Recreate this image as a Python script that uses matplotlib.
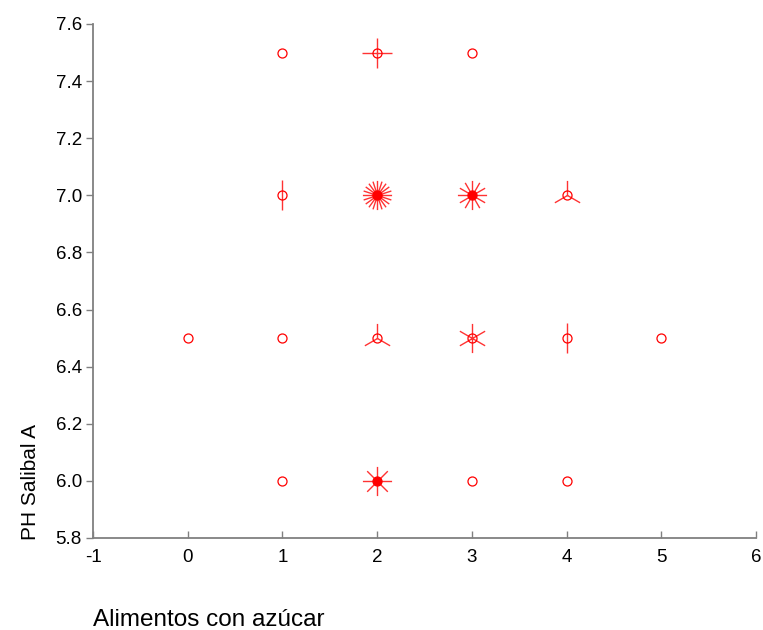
import matplotlib

matplotlib.use("Agg")
import matplotlib.pyplot as plt
import numpy as np
from matplotlib.path import Path

plt.rcParams["font.family"] = ["Liberation Sans", "DejaVu Sans"]

# sunflower plot data: position and number of coincident observations
x_vals = [1, 2, 3, 1, 2, 3, 4, 0, 1, 2, 3, 4, 5, 1, 2, 3, 4]
y_vals = [7.5, 7.5, 7.5, 7.0, 7.0, 7.0, 7.0, 6.5, 6.5, 6.5, 6.5, 6.5, 6.5, 6.0, 6.0, 6.0, 6.0]
counts = [1, 4, 1, 2, 20, 12, 3, 1, 1, 3, 6, 2, 1, 1, 8, 1, 1]

x_ticks = [-1, 0, 1, 2, 3, 4, 5, 6]
y_ticks = [5.8, 6.0, 6.2, 6.4, 6.6, 6.8, 7.0, 7.2, 7.4, 7.6]

RED = "#ff0000"
GREY = "#808080"


def petal_marker(n):
    """Marker path with n petals starting straight up."""
    angles = np.deg2rad(90 + 360.0 * np.arange(n) / n)
    verts, codes = [], []
    for a in angles:
        verts += [(0.0, 0.0), (np.cos(a), np.sin(a))]
        codes += [Path.MOVETO, Path.LINETO]
    return Path(verts, codes)


fig = plt.figure(figsize=(7.63, 6.30), dpi=100)
ax = fig.add_axes([93 / 763, 1 - 538 / 630, 663 / 763, 514 / 630])

for x, y, n in zip(x_vals, y_vals, counts):
    if n > 1:
        ax.plot(x, y, marker=petal_marker(n), markersize=21, ls="none",
                markeredgecolor=RED, markeredgewidth=1.0, alpha=0.8)
    dense = n >= 8
    ax.plot(x, y, marker="o", markersize=6.5, ls="none",
            markerfacecolor=RED if dense else "none",
            markeredgecolor=RED, markeredgewidth=0.9)

ax.set_xlim(-1, 6)
ax.set_ylim(5.8, 7.6)
ax.set_xticks(x_ticks)
ax.set_xticklabels([str(t) for t in x_ticks])
ax.set_yticks(y_ticks)
ax.set_yticklabels([f"{t:.1f}" for t in y_ticks])

for side in ("top", "right"):
    ax.spines[side].set_visible(False)
for side in ("left", "bottom"):
    ax.spines[side].set_color(GREY)
    ax.spines[side].set_linewidth(1.3)

ax.tick_params(axis="x", direction="in", length=5, width=1, color=GREY,
               labelsize=13.5, pad=8)
ax.tick_params(axis="y", direction="out", length=5, width=1, color=GREY,
               labelsize=13.5, pad=3)

fig.text(93 / 763, 1 - 620 / 630, "Alimentos con azúcar", fontsize=17.5,
         ha="left", va="center")
fig.text(30 / 763, 1 - 540 / 630, "PH Salibal A", fontsize=15,
         rotation=90, ha="center", va="bottom")

fig.savefig("out.png", dpi=100)
